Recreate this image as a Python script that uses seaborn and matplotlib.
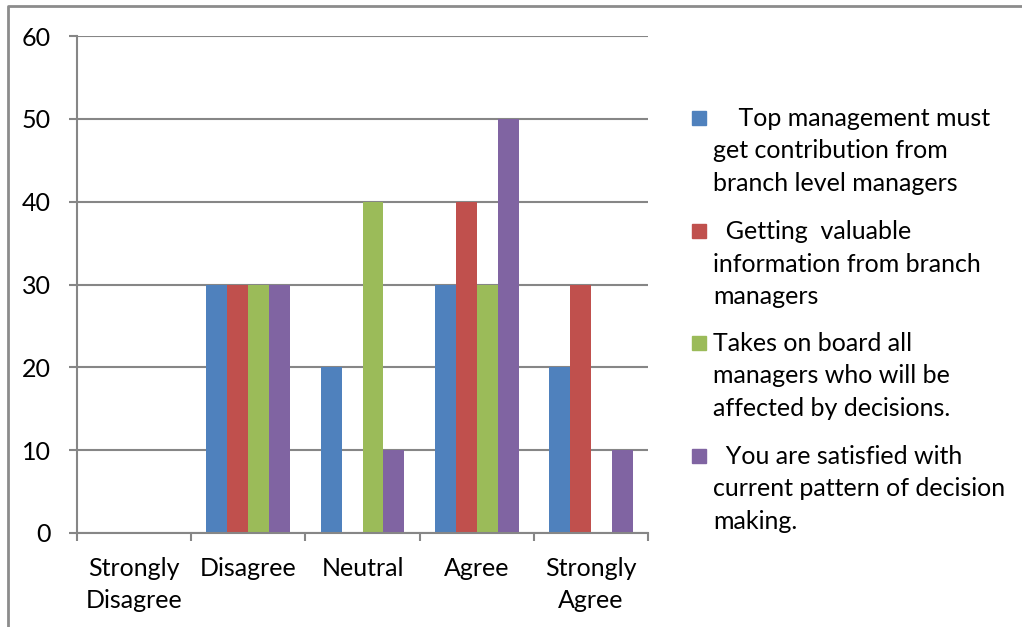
import matplotlib
matplotlib.use("Agg")
import matplotlib.pyplot as plt
import seaborn as sns
import pandas as pd
from matplotlib.patches import Rectangle
from matplotlib.lines import Line2D

# --- data ---
categories = ["Strongly\nDisagree", "Disagree", "Neutral", "Agree", "Strongly\nAgree"]
series_names = [
    "Top management must get contribution from branch level managers",
    "Getting valuable information from branch managers",
    "Takes on board all managers who will be affected by decisions.",
    "You are satisfied with current pattern of decision making.",
]
legend_labels = [
    "    Top management must\nget contribution from\nbranch level managers",
    "  Getting  valuable\ninformation from branch\nmanagers",
    "Takes on board all\nmanagers who will be\naffected by decisions.",
    "  You are satisfied with\ncurrent pattern of decision\nmaking.",
]
top_mgmt = [0, 30, 20, 30, 20]
valuable_info = [0, 30, 0, 40, 30]
takes_on_board = [0, 30, 40, 30, 0]
satisfied = [0, 30, 10, 50, 10]
colors = ["#4F81BD", "#C0504D", "#9BBB59", "#8064A2"]

rows = []
for name, vals in zip(series_names, [top_mgmt, valuable_info, takes_on_board, satisfied]):
    for cat, v in zip(categories, vals):
        rows.append({"category": cat, "series": name, "value": v})
df = pd.DataFrame(rows)

sns.set_theme(style="white")
plt.rcParams['font.family'] = ['Lato', 'DejaVu Sans']

fig = plt.figure(figsize=(10.22, 6.27), dpi=100)
ax = fig.add_axes([77 / 1022, 1 - 533 / 627, (648 - 77) / 1022, (533 - 36) / 627])

sns.barplot(data=df, x="category", y="value", hue="series", order=categories,
            hue_order=series_names, palette=colors, width=0.735, saturation=1,
            ax=ax, legend=False, edgecolor="none", linewidth=0)

grid_c = "#868686"
ax.set_xlim(-0.5, len(categories) - 0.5)
ax.set_ylim(0, 60)
ax.set_yticks(range(0, 61, 10))
ax.yaxis.grid(True, color=grid_c, linewidth=1.5)
ax.set_axisbelow(True)
for s in ["top", "right"]:
    ax.spines[s].set_visible(False)
for s in ["left", "bottom"]:
    ax.spines[s].set_color(grid_c)
    ax.spines[s].set_linewidth(1.5)

# category boundaries get the tick marks, the centres get the labels
ax.set_xticks([i + 0.5 for i in range(-1, len(categories))], minor=False)
ax.set_xticklabels([])
ax.set_xticks(range(len(categories)), minor=True)
ax.set_xticklabels(categories, minor=True)
ax.tick_params(axis="x", which="major", length=6, width=1.5, color=grid_c, direction="out", bottom=True)
ax.tick_params(axis="x", which="minor", length=0, pad=17, labelsize=18, labelcolor="black")
ax.tick_params(axis="y", length=6, width=1.5, color=grid_c, direction="out", left=True,
               pad=13, labelsize=18, labelcolor="black")
for lbl in ax.get_xticklabels(minor=True):
    lbl.set_linespacing(1.5)
ax.set_xlabel("")
ax.set_ylabel("")

# legend, drawn by hand to match the wrapped layout
legend_y = [118, 231, 343, 456]
for lab, c, yc in zip(legend_labels, colors, legend_y):
    fig.add_artist(Rectangle((692 / 1022, 1 - (yc + 7) / 627), 14 / 1022, 14 / 627,
                             transform=fig.transFigure, color=c))
    fig.text(713 / 1022, 1 - (yc - 11) / 627, lab, fontsize=18, va="top", ha="left",
             linespacing=1.5, color="black")

# outer frame (top and left only)
fig.add_artist(Line2D([8 / 1022, 8 / 1022, 1.0], [0.0, 1 - 6 / 627, 1 - 6 / 627],
                      transform=fig.transFigure, color="#8c8c8c", linewidth=2))

fig.savefig("out.png", dpi=100, facecolor="white")
